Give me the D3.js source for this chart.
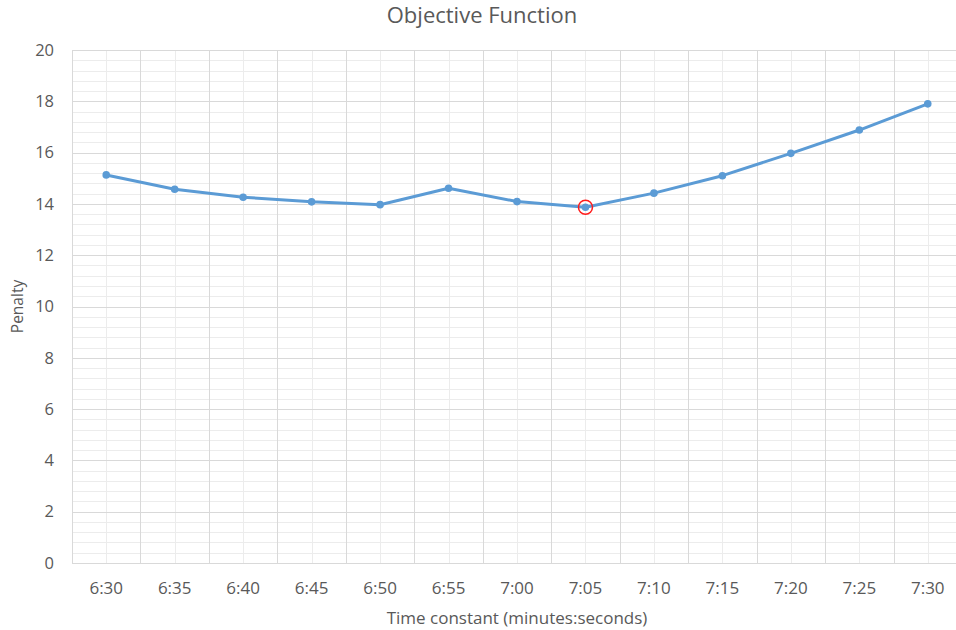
<!DOCTYPE html>
<html>
<head>
<meta charset="utf-8">
<script src="https://cdn.jsdelivr.net/npm/d3@7"></script>
<style>
  html, body { margin: 0; padding: 0; background: #fff; }
  svg { display: block; font-family: "Open Sans", "Liberation Sans", sans-serif; }
</style>
</head>
<body>
<script>
// Time constants (minutes:seconds) and the penalty of the objective function
const categories = ["6:30", "6:35", "6:40", "6:45", "6:50", "6:55", "7:00", "7:05", "7:10", "7:15", "7:20", "7:25", "7:30"];
const penalty = [15.13, 14.57, 14.26, 14.08, 13.97, 14.61, 14.09, 13.87, 14.42, 15.10, 15.97, 16.88, 17.90];
const yTicks = [0, 2, 4, 6, 8, 10, 12, 14, 16, 18, 20];
const minimumLabel = "7:05";

const W = 956, H = 630;
const margin = { left: 72, top: 50, right: -6, bottom: 67 };
const plotL = margin.left, plotR = W - margin.right, plotT = margin.top, plotB = H - margin.bottom;

const svg = d3.select("body").append("svg").attr("width", W).attr("height", H);

const x = d3.scaleBand().domain(categories).range([plotL, plotR]).padding(0);
const y = d3.scaleLinear().domain([0, 20]).range([plotB, plotT]);
const cx = d => x(d) + x.bandwidth() / 2;

const grid = svg.append("g");

// minor horizontal gridlines every 0.4
const minorY = d3.range(0, 20.001, 0.4).filter(v => Math.abs(v / 2 - Math.round(v / 2)) > 1e-6);
grid.selectAll(".minorY").data(minorY).join("line")
  .attr("x1", plotL).attr("x2", plotR)
  .attr("y1", d => Math.round(y(d)) + 0.5).attr("y2", d => Math.round(y(d)) + 0.5)
  .attr("stroke", "#ececec").attr("stroke-width", 1);

// minor vertical gridlines at category centres
grid.selectAll(".minorX").data(categories).join("line")
  .attr("x1", d => Math.round(cx(d)) + 0.5).attr("x2", d => Math.round(cx(d)) + 0.5)
  .attr("y1", plotT).attr("y2", plotB)
  .attr("stroke", "#ececec").attr("stroke-width", 1);

// major horizontal gridlines
grid.selectAll(".majorY").data(yTicks).join("line")
  .attr("x1", plotL).attr("x2", plotR)
  .attr("y1", d => Math.round(y(d)) + 0.5).attr("y2", d => Math.round(y(d)) + 0.5)
  .attr("stroke", "#d9d9d9").attr("stroke-width", 1);

// major vertical gridlines at category boundaries
const bounds = categories.map(c => x(c)).concat([plotR]);
grid.selectAll(".majorX").data(bounds).join("line")
  .attr("x1", d => Math.round(d) + 0.5).attr("x2", d => Math.round(d) + 0.5)
  .attr("y1", plotT).attr("y2", plotB)
  .attr("stroke", "#d9d9d9").attr("stroke-width", 1);

// y axis labels
const yAxis = d3.axisLeft(y).tickValues(yTicks).tickSize(0).tickPadding(0).tickFormat(d3.format("d"));
const ya = svg.append("g").attr("transform", `translate(${plotL - 18},0)`).call(yAxis);
ya.select(".domain").remove();
ya.selectAll("text").attr("fill", "#595959").style("font-size", "16.5px")
  .style("font-family", "'Open Sans', 'Liberation Sans', sans-serif");

// x axis labels
const xAxis = d3.axisBottom(x).tickSize(0).tickPadding(0);
const xa = svg.append("g").attr("transform", `translate(0,${plotB + 19})`).call(xAxis);
xa.select(".domain").remove();
xa.selectAll("text").attr("fill", "#595959").style("font-size", "17px")
  .style("font-family", "'Open Sans', 'Liberation Sans', sans-serif");

// series line
const pts = categories.map((c, i) => [cx(c), y(penalty[i])]);
svg.append("path")
  .attr("d", d3.line()(pts))
  .attr("fill", "none").attr("stroke", "#5b9bd5").attr("stroke-width", 3)
  .attr("stroke-linejoin", "round").attr("stroke-linecap", "round");

svg.append("g").selectAll("circle").data(pts).join("circle")
  .attr("cx", d => d[0]).attr("cy", d => d[1]).attr("r", 3.8)
  .attr("fill", "#5b9bd5");

// ring around the minimum
const mi = categories.indexOf(minimumLabel);
svg.append("circle")
  .attr("cx", cx(minimumLabel)).attr("cy", y(penalty[mi])).attr("r", 7)
  .attr("fill", "none").attr("stroke", "#ff1a1a").attr("stroke-width", 1.5);

// titles
svg.append("text").attr("x", 482).attr("y", 23).attr("text-anchor", "middle")
  .attr("fill", "#595959").style("font-size", "22px").text("Objective Function");

svg.append("text").attr("x", (plotL + plotR) / 2).attr("y", 624).attr("text-anchor", "middle")
  .attr("fill", "#595959").style("font-size", "17px").text("Time constant (minutes:seconds)");

svg.append("text").attr("transform", `translate(23,${(plotT + plotB) / 2}) rotate(-90)`)
  .attr("text-anchor", "middle").attr("fill", "#595959").style("font-size", "15.5px").text("Penalty");
</script>
</body>
</html>
